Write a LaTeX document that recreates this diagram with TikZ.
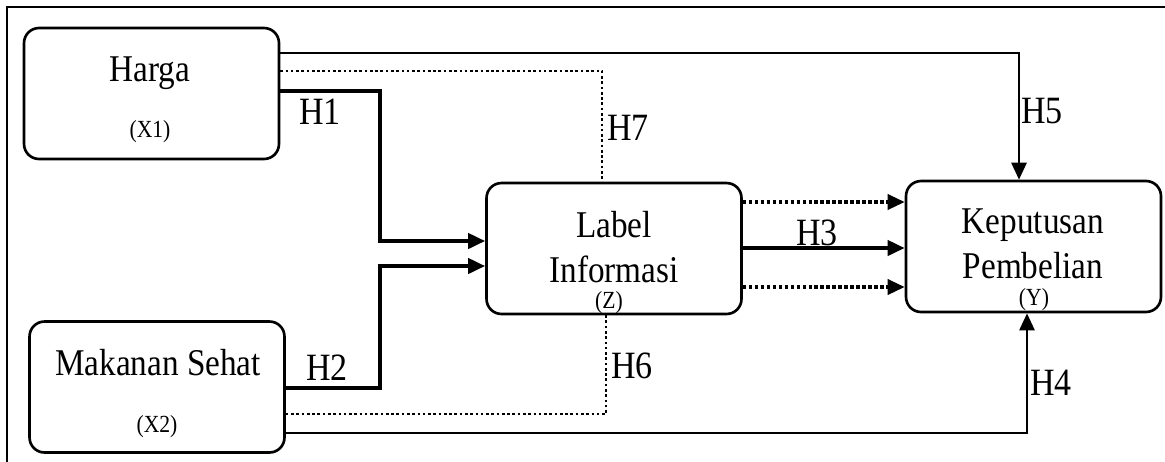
\documentclass[tikz,border=0pt]{standalone}
\usepackage{fontspec}
\setmainfont{Liberation Serif}[FakeStretch=0.88]
\usepackage{tikz}
\usetikzlibrary{arrows.meta,positioning}

\begin{document}
\begin{tikzpicture}[
    % styles
    x=0.02cm, y=-0.02cm,
    varbox/.style={draw=black, line width=1.5pt, rounded corners=0.3cm, fill=white,
        minimum width=5.1cm, minimum height=2.62cm, inner sep=0pt},
    bigtext/.style={anchor=base, inner sep=0pt, font=\fontsize{21.5}{25}\selectfont},
    codetext/.style={anchor=base, inner sep=0pt, font=\fontsize{14}{16}\selectfont},
    hyp/.style={anchor=base, inner sep=0pt, font=\fontsize{22}{25}\selectfont},
    direct/.style={line width=1.5pt},
    thickline/.style={line width=2.2pt},
    indirect/.style={line width=1.5pt, dash pattern=on 1.5pt off 1.5pt},
    indirect thick/.style={line width=2pt, dash pattern=on 2pt off 1.4pt},
    headed/.style={-{Triangle[length=0.34cm,width=0.3cm]}}
]

    % --- 0. frame ---
    \useasboundingbox (0,0) rectangle (1165,461);
    \clip (0,0) rectangle (1165,461);
    \fill[white] (0,0) rectangle (1165,461);
    \draw[line width=0.9pt] (7,7) rectangle (1185,485);

    % --- 1. variables ---
    \node[varbox] (X1) at (151.5,93.5) {};
    \node[varbox] (X2) at (157,387) {};
    \node[varbox] (Z) at (614,248.5) {};
    \node[varbox] (Y) at (1033.5,246.5) {};

    % --- 2. texts in the boxes ---
    \node[bigtext] (X1-name) at (150,81) {Harga};
    \node[codetext] (X1-code) at (150,137) {(X1)};
    \node[bigtext] (X2-name) at (158,375) {Makanan Sehat};
    \node[codetext] (X2-code) at (157,432) {(X2)};
    \node[bigtext] (Z-name1) at (614,237) {Label};
    \node[bigtext] (Z-name2) at (614,282) {Informasi};
    \node[codetext] (Z-code) at (609,308) {(Z)};
    \node[bigtext] (Y-name1) at (1033,233) {Keputusan};
    \node[bigtext] (Y-name2) at (1033,278) {Pembelian};
    \node[codetext] (Y-code) at (1034,305) {(Y)};

    % --- 3. paths ---
    % X1 -> Y (H5), X1 .. Z (H7), X1 -> Z (H1)
    \draw[direct,headed] (X1.east |- 0,53) -| (Y.north -| 1019,0);
    \draw[indirect] (X1.east |- 0,71) -| (Z.north -| 602,0);
    \draw[thickline,headed] (X1.east |- 0,91) -| (380,241) -- (Z.west |- 0,241);

    % X2 -> Z (H2), X2 .. Z (H6), X2 -> Y (H4)
    \draw[thickline,headed] (X2.east |- 0,388) -| (380,266) -- (Z.west |- 0,266);
    \draw[indirect] (X2.east |- 0,414) -| (Z.south -| 606,0);
    \draw[direct,headed] (X2.east |- 0,433) -| (Y.south -| 1027,0);

    % Z -> Y (H3)
    \draw[thickline,headed] (Z.east |- 0,248) -- (Y.west |- 0,248);
    \foreach \y in {202,287}
        \draw[indirect thick,headed] (Z.east |- 0,\y) -- (Y.west |- 0,\y);

    % --- 4. labels ---
    \node[hyp] (h1) at (320,124) {H1};
    \node[hyp] (h2) at (327,380) {H2};
    \node[hyp] (h3) at (817,245) {H3};
    \node[hyp] (h4) at (1051,395) {H4};
    \node[hyp] (h5) at (1042,123) {H5};
    \node[hyp] (h6) at (632,378) {H6};
    \node[hyp] (h7) at (628,140) {H7};

\end{tikzpicture}
\end{document}
